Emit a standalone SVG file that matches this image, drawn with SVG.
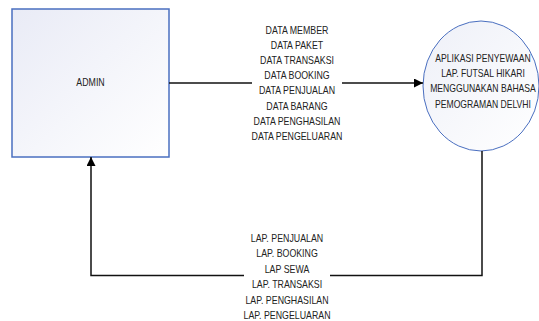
<svg xmlns="http://www.w3.org/2000/svg" width="539" height="321" viewBox="0 0 539 321">
  <style>
    .lbl { font-family: "Liberation Sans", Arial, sans-serif; font-size: 10.5px; fill: #222; text-anchor: middle; }
    .flow { fill: none; stroke: #111; stroke-width: 1.5; }
  </style>
  <defs>
    <linearGradient id="boxFill" x1="0" y1="0" x2="1" y2="1">
      <stop offset="0" stop-color="#e9ebf6"/>
      <stop offset="1" stop-color="#ffffff"/>
    </linearGradient>
    <linearGradient id="ovalFill" x1="0" y1="0" x2="1" y2="1">
      <stop offset="0" stop-color="#eef0f8"/>
      <stop offset="1" stop-color="#ffffff"/>
    </linearGradient>
    <marker id="arrow" viewBox="0 0 10 10" refX="10" refY="5" markerWidth="10" markerHeight="9" markerUnits="userSpaceOnUse" orient="auto">
      <path d="M0,0 L10,5 L0,10 Z" fill="#000"/>
    </marker>
  </defs>
  <rect width="539" height="321" fill="#fff"/>

  <!-- external entity -->
  <g id="admin">
    <rect x="12" y="9" width="157" height="148" fill="url(#boxFill)" stroke="#4a6fc0" stroke-width="1.5"/>
    <g transform="translate(90.5 0) scale(0.84 1)">
      <text class="lbl" x="0" y="86.5">ADMIN</text>
    </g>
  </g>

  <!-- process -->
  <g id="aplikasi">
    <ellipse cx="481" cy="86" rx="58" ry="65" fill="url(#ovalFill)" stroke="#4a6fc0" stroke-width="1"/>
    <g transform="translate(483 0) scale(0.82 1)">
      <text class="lbl" x="0" y="62">APLIKASI PENYEWAAN</text>
      <text class="lbl" x="0" y="77.5">LAP. FUTSAL HIKARI</text>
      <text class="lbl" x="0" y="92.5">MENGGUNAKAN BAHASA</text>
      <text class="lbl" x="0" y="108">PEMOGRAMAN DELVHI</text>
    </g>
  </g>

  <!-- data flows -->
  <g id="connectors">
    <path class="flow" d="M169,83 H252"/>
    <path class="flow" d="M342,83 H423" marker-end="url(#arrow)"/>
    <path class="flow" d="M482,151 V275.5 H330"/>
    <path class="flow" d="M244,275.5 H91 V157" marker-end="url(#arrow)"/>
  </g>

  <g id="input-labels" transform="translate(297 0) scale(0.84 1)">
    <text class="lbl" x="0" y="33.6">DATA MEMBER</text>
    <text class="lbl" x="0" y="48.8">DATA PAKET</text>
    <text class="lbl" x="0" y="64">DATA TRANSAKSI</text>
    <text class="lbl" x="0" y="79.2">DATA BOOKING</text>
    <text class="lbl" x="0" y="94.4">DATA PENJUALAN</text>
    <text class="lbl" x="0" y="109.6">DATA BARANG</text>
    <text class="lbl" x="0" y="124.8">DATA PENGHASILAN</text>
    <text class="lbl" x="0" y="140">DATA PENGELUARAN</text>
  </g>

  <g id="output-labels" transform="translate(287 0) scale(0.84 1)">
    <text class="lbl" x="0" y="242">LAP. PENJUALAN</text>
    <text class="lbl" x="0" y="257.5">LAP. BOOKING</text>
    <text class="lbl" x="0" y="273">LAP SEWA</text>
    <text class="lbl" x="0" y="288.5">LAP. TRANSAKSI</text>
    <text class="lbl" x="0" y="304">LAP. PENGHASILAN</text>
    <text class="lbl" x="0" y="319.3">LAP. PENGELUARAN</text>
  </g>
</svg>
